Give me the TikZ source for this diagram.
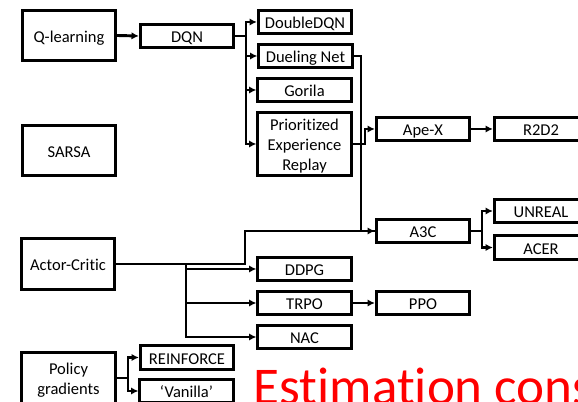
\documentclass[tikz,border=0pt]{standalone}
\usepackage{fontspec}
\setmainfont[Ligatures=NoCommon]{Carlito}
\usetikzlibrary{arrows.meta}
\newcommand{\toppad}{\rule{0pt}{13pt}}
\tikzset{
  x=.75pt,y=-.75pt,
  box/.style={draw=black,line width=2.2pt,fill=white,inner sep=0pt,minimum width=70pt,minimum height=17.5pt,align=center,font=\fontsize{12.4}{15}\selectfont,
    execute at begin node={\rule{0pt}{13.4pt}},execute at end node={\rule[-3.4pt]{0pt}{3.4pt}}},
  bigbox/.style={box,minimum height=37.7pt},
  tallbox/.style={box,minimum height=47.5pt},
  conn/.style={line width=2.2pt,draw=black},
  arr/.style={conn,-{Latex[length=5.5pt,width=5.5pt]}},
}
\begin{document}
\begin{tikzpicture}
\useasboundingbox (0,0) rectangle (578,402);
\clip (0,0) rectangle (578,402);
\fill[white] (0,0) rectangle (578,402);
\node[bigbox] (q) at (69,35.5) {Q-learning};
\node[box] (dqn) at (187,36) {DQN};
\node[box] (double) at (305,22) {DoubleDQN};
\node[box] (dueling) at (305.5,56) {Dueling Net};
\node[box] (gorila) at (304.5,90) {Gorila};
\node[tallbox] (per) at (304.5,144) {\toppad Prioritized\\Experience\\Replay};
\node[bigbox] (sarsa) at (69,150.5) {SARSA};
\node[box] (apex) at (423,129) {Ape-X};
\node[box] (r2d2) at (541,129) {R2D2};
\node[bigbox] (ac) at (68,264) {Actor-Critic};
\node[box] (a3c) at (423,231) {A3C};
\node[box] (unreal) at (541,211) {UNREAL};
\node[box] (acer) at (541,247.5) {ACER};
\node[box] (ddpg) at (304.5,269) {DDPG};
\node[box] (trpo) at (304.5,303) {TRPO};
\node[box] (nac) at (304.5,337) {NAC};
\node[box] (ppo) at (423,303) {PPO};
\node[bigbox] (pg) at (68.5,378) {\toppad Policy\\gradients};
\node[box] (reinforce) at (187,357.5) {REINFORCE};
\node[box] (vanilla) at (186.5,391) {‘Vanilla’};
\coordinate (t1) at (246,36);
\coordinate (t2) at (361,56);
\coordinate (t3) at (365,144);
\coordinate (t4) at (245,264);
\coordinate (t5) at (186,264);
\coordinate (t6) at (482,231);
\coordinate (t7) at (128,378);
\draw[arr] (q.east) -- (dqn.west);
\draw[arr] (dqn.east) -- (t1) |- (double.west);
\draw[arr] (t1) |- (dueling.west);
\draw[arr] (t1) |- (gorila.west);
\draw[arr] (t1) |- (per.west);
\draw[conn] (dueling.east) -- (t2) |- (a3c.west);
\draw[arr] (per.east) -- (t3) |- (apex.west);
\draw[arr] (apex.east) -- (r2d2.west);
\draw[arr] (ac.east) -- (t4) |- (a3c.west);
\draw[arr] (t5) |- (ddpg.west);
\draw[arr] (t5) |- (trpo.west);
\draw[arr] (t5) |- (nac.west);
\draw[arr] (trpo.east) -- (ppo.west);
\draw[arr] (a3c.east) -- (t6) |- (unreal.west);
\draw[arr] (t6) |- (acer.west);
\draw[arr] (pg.east) -- (t7) |- (reinforce.west);
\draw[arr] (t7) |- (vanilla.west);
\node[anchor=base west,inner sep=0pt,text=red,font=\fontsize{39.8}{44}\selectfont] (est) at (253.5,404.5) {Estimation cons};
\end{tikzpicture}
\end{document}
